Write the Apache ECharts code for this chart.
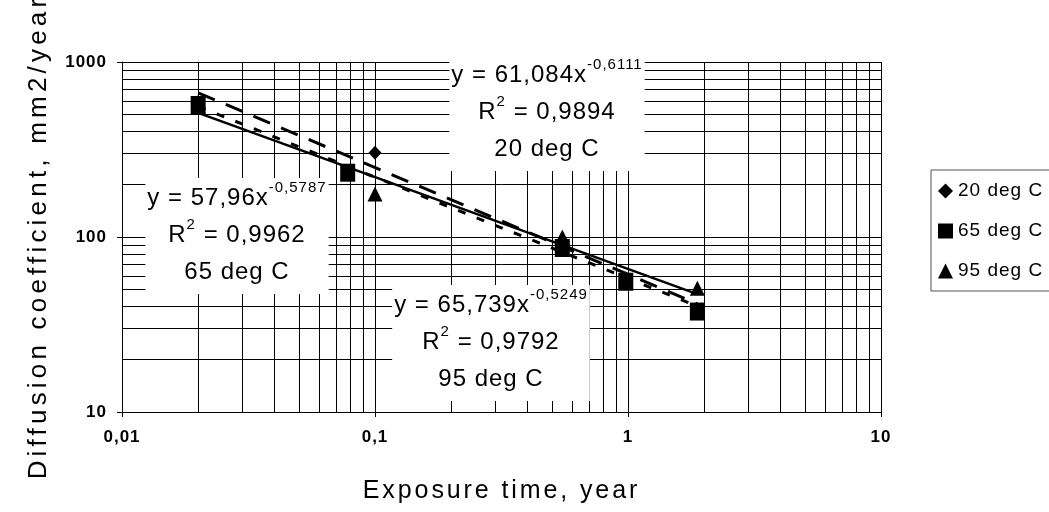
<!DOCTYPE html>
<html>
<head>
<meta charset="utf-8">
<script src="https://cdn.jsdelivr.net/npm/echarts@6/dist/echarts.min.js"></script>
<style>
  html, body { margin: 0; padding: 0; background: #fff; }
  #chart { width: 1049px; height: 512px; }
</style>
</head>
<body>
<div id="chart"></div>
<script>
// ---- data -------------------------------------------------------------
const seriesNames = ['20 deg C', '65 deg C', '95 deg C'];

const exposure20 = [0.02, 0.1, 0.55, 0.98, 1.88];
const diffusion20 = [590, 303, 88, 56, 37.5];

const exposure65 = [0.02, 0.078, 0.55, 0.98, 1.88];
const diffusion65 = [568, 233, 86.5, 55.5, 37.5];

const exposure95 = [0.02, 0.1, 0.55, 0.98, 1.88];
const diffusion95 = [560, 176, 100, 58, 51];

// power-law fits  D = a * t^b
const fitCoef = [61.084, 57.96, 65.739];
const fitExp = [-0.6111, -0.5787, -0.5249];
const fitR2 = [0.9894, 0.9962, 0.9792];

const xTickLabels = ['0,01', '0,1', '1', '10'];
const yTickLabels = ['10', '100', '1000'];

// ---- text rendering with letter spacing ---------------------------------
const FONT = "'Liberation Sans', Arial, sans-serif";
const SPACING_BY_SIZE = { 26: 4.2, 25: 2.9, 24: 1.0, 19: 1.0, 17: 1.0, 15: 1.0 };
function spacingFor(font) {
  const m = /(\d+(?:\.\d+)?)px/.exec(font || '');
  return m ? (SPACING_BY_SIZE[+m[1]] || 0) : 0;
}
(function () {
  const proto = CanvasRenderingContext2D.prototype;
  const origFillText = proto.fillText;
  proto.fillText = function (text, x, y, maxWidth) {
    if ('letterSpacing' in this) this.letterSpacing = spacingFor(this.font) + 'px';
    return maxWidth === undefined
      ? origFillText.call(this, text, x, y)
      : origFillText.call(this, text, x, y, maxWidth);
  };
  const mctx = document.createElement('canvas').getContext('2d');
  const supported = 'letterSpacing' in mctx;
  if (echarts.setPlatformAPI) {
    echarts.setPlatformAPI({
      measureText(text, font) {
        mctx.font = font;
        const w = mctx.measureText(text).width;
        return { width: w + (supported ? spacingFor(font) * String(text).length : 0) };
      }
    });
  }
})();

// ---- helpers -----------------------------------------------------------
const comma = v => String(v).replace('.', ',');
const pairs = (xs, ys) => xs.map((x, i) => [x, ys[i]]);
function fitLine(k, xs) {
  const lo = Math.min(...xs), hi = Math.max(...xs);
  return [lo, hi].map(x => [x, fitCoef[k] * Math.pow(x, fitExp[k])]);
}
const minorX = [], minorY = [];
[0.01, 0.1, 1].forEach(d => { for (let m = 2; m <= 9; m++) minorX.push(+(d * m).toPrecision(3)); });
[10, 100].forEach(d => { for (let m = 2; m <= 9; m++) minorY.push(d * m); });

function fitLabel(k) {
  return '{b|y = ' + comma(fitCoef[k]) + 'x}{s|' + comma(fitExp[k]) + '}\n' +
         '{b|R}{s|2}{b| = ' + comma(fitR2[k]) + '}\n' +
         '{b|' + seriesNames[k] + '}';
}
const richFit = {
  b: { fontSize: 24, lineHeight: 37, fontFamily: FONT, fill: '#000', verticalAlign: 'middle' },
  s: { fontSize: 15, lineHeight: 31, fontFamily: FONT, fill: '#000', verticalAlign: 'top' }
};
function fitBox(k, cx, top) {
  return {
    type: 'text', z: 100, silent: true,
    style: {
      x: cx, y: top, text: fitLabel(k), rich: richFit,
      align: 'center', verticalAlign: 'top',
      backgroundColor: '#fff', padding: [2, 2, 3, 2],
      fontSize: 24, fontFamily: FONT, fill: '#000'
    }
  };
}

const chart = echarts.init(document.getElementById('chart'), null, { renderer: 'canvas' });

const markerStyle = { color: '#000', opacity: 1 };

const option = {
  animation: false,
  backgroundColor: '#fff',
  grid: { left: 122, right: 168, top: 62, bottom: 100, containLabel: false, outerBoundsMode: 'none' },
  xAxis: {
    type: 'log', logBase: 10, min: 0.01, max: 10,
    name: 'Exposure time, year', nameLocation: 'middle', nameGap: 65,
    nameTextStyle: { fontSize: 25, color: '#000', fontFamily: FONT },
    axisLine: { show: true, lineStyle: { color: '#000', width: 1 } },
    axisTick: { show: true, inside: false, length: 5, lineStyle: { color: '#000' } },
    axisLabel: {
      margin: 16, color: '#000', fontSize: 17, fontWeight: 'bold', fontFamily: FONT,
      formatter: v => xTickLabels[Math.round(Math.log10(v)) + 2]
    },
    splitLine: { show: true, lineStyle: { color: '#000', width: 1 } }
  },
  yAxis: {
    type: 'log', logBase: 10, min: 10, max: 1000,
    name: 'Diffusion coefficient, mm2/year', nameLocation: 'middle', nameGap: 68,
    nameTextStyle: { fontSize: 26, color: '#000', fontFamily: FONT },
    axisLine: { show: true, lineStyle: { color: '#000', width: 1 } },
    axisTick: { show: true, inside: false, length: 5, lineStyle: { color: '#000' } },
    axisLabel: {
      margin: 15, color: '#000', fontSize: 17, fontWeight: 'bold', fontFamily: FONT,
      formatter: v => yTickLabels[Math.round(Math.log10(v)) - 1]
    },
    splitLine: { show: true, lineStyle: { color: '#000', width: 1 } }
  },
  legend: {
    orient: 'vertical', left: 931, top: 170,
    padding: [11, 40, 10, 7],
    itemWidth: 15, itemHeight: 15, itemGap: 20,
    borderColor: '#555', borderWidth: 1, backgroundColor: '#fff',
    selectedMode: false,
    itemStyle: { opacity: 1 },
    textStyle: { fontSize: 19, color: '#000', fontFamily: FONT },
    data: [
      { name: seriesNames[0], icon: 'diamond' },
      { name: seriesNames[1], icon: 'rect' },
      { name: seriesNames[2], icon: 'triangle' }
    ]
  },
  graphic: [
    fitBox(0, 547, 55),
    fitBox(1, 237, 178),
    fitBox(2, 491, 285)
  ],
  series: [
    {
      // minor logarithmic grid lines
      type: 'scatter', data: [], silent: true, z: 1,
      markLine: {
        silent: true, symbol: 'none', label: { show: false },
        lineStyle: { color: '#000', width: 1, type: 'solid' },
        emphasis: { disabled: true },
        data: minorX.map(v => ({ xAxis: v })).concat(minorY.map(v => ({ yAxis: v })))
      }
    },
    {
      name: seriesNames[0], type: 'scatter', symbol: 'diamond', symbolSize: [13, 14],
      itemStyle: markerStyle, z: 2, data: pairs(exposure20, diffusion20)
    },
    {
      name: seriesNames[1], type: 'scatter', symbol: 'rect', symbolSize: [15, 18],
      itemStyle: markerStyle, z: 3, data: pairs(exposure65, diffusion65)
    },
    {
      name: seriesNames[2], type: 'scatter', symbol: 'triangle', symbolSize: [15, 15],
      itemStyle: markerStyle, z: 3, data: pairs(exposure95, diffusion95)
    },
    {
      name: 'fit20', type: 'line', showSymbol: false, silent: true, z: 4,
      lineStyle: { color: '#000', width: 3, type: [18, 12] },
      data: fitLine(0, exposure20)
    },
    {
      name: 'fit65', type: 'line', showSymbol: false, silent: true, z: 4,
      lineStyle: { color: '#000', width: 3, type: [8, 12] },
      data: fitLine(1, exposure65)
    },
    {
      name: 'fit95', type: 'line', showSymbol: false, silent: true, z: 4,
      lineStyle: { color: '#000', width: 2.5, type: 'solid' },
      data: fitLine(2, exposure95)
    }
  ]
};

chart.setOption(option);
</script>
</body>
</html>
